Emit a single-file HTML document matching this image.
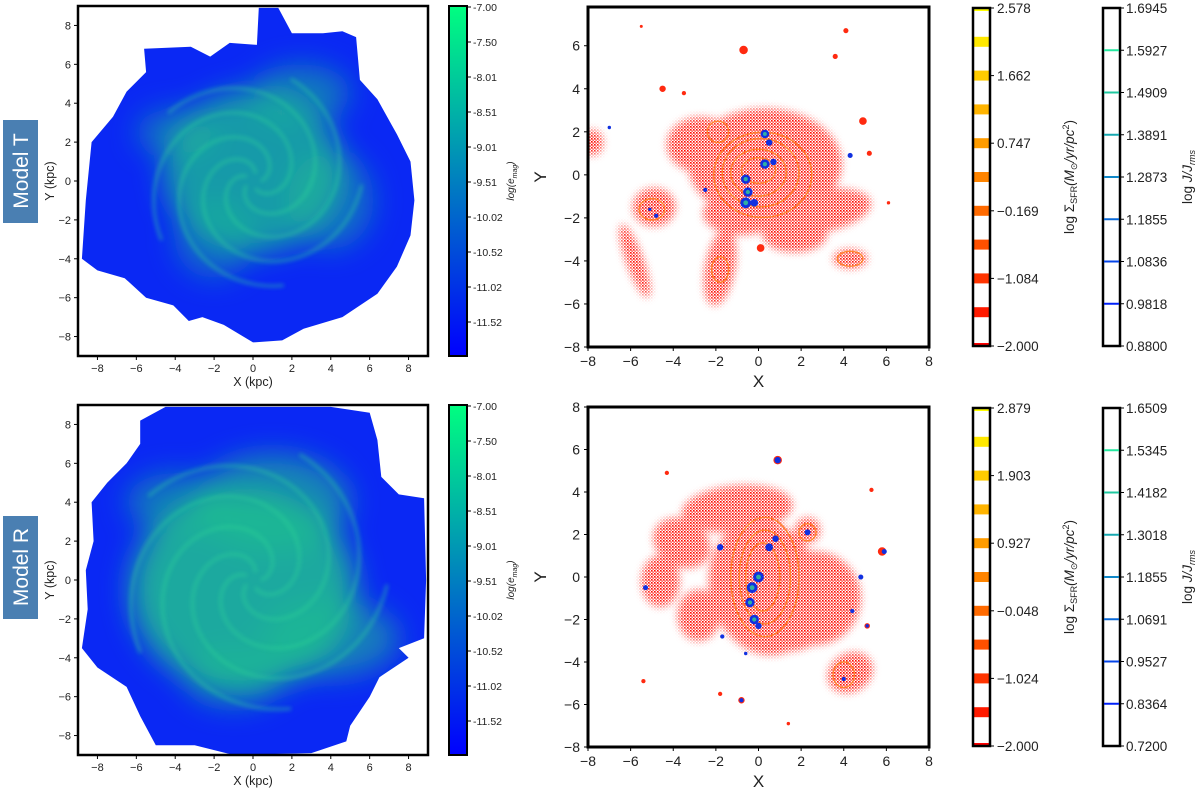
<!DOCTYPE html>
<html><head><meta charset="utf-8"><style>
html,body{margin:0;padding:0;background:#fff;}
svg{display:block;font-family:"Liberation Sans","DejaVu Sans",sans-serif;}
</style></head><body>
<svg id="fig" width="1200" height="789" viewBox="0 0 1200 789" xmlns="http://www.w3.org/2000/svg">
<defs>
<filter id="blur2" x="-20%" y="-20%" width="140%" height="140%"><feGaussianBlur stdDeviation="2"/></filter>
<filter id="blur6" x="-30%" y="-30%" width="160%" height="160%"><feGaussianBlur stdDeviation="4"/></filter>
<filter id="blur12" x="-40%" y="-40%" width="180%" height="180%"><feGaussianBlur stdDeviation="14"/></filter>
<linearGradient id="winter" x1="0" y1="1" x2="0" y2="0"><stop offset="0" stop-color="#0000ff"/><stop offset="1" stop-color="#00ff80"/></linearGradient>
<pattern id="dots" width="3" height="3" patternUnits="userSpaceOnUse"><rect x="0" y="0" width="1.6" height="1.6" fill="#ff0a00"/><rect x="1.5" y="1.5" width="1.3" height="1.3" fill="#ff1a10"/></pattern>
</defs>
<g id="root"></g>
</svg>
<script>
// ---- data (data units) ----
const magOutlineT = [[-8.8,-4],[-8.6,-1],[-8.3,2],[-7.2,3.3],[-6.5,4.6],[-5.5,5.6],[-5.6,6.8],[-3.2,6.9],[-2.2,6.4],[-1.2,7.1],[0.2,7],[0.3,8.9],[1.3,8.9],[2,7.6],[3.6,7.6],[4.6,7.7],[5.3,7.4],[5.5,5.2],[6.4,4.2],[7.4,2.4],[8.1,1],[8.3,-1],[8.1,-2.8],[7.4,-4.4],[6.4,-5.8],[4.6,-7],[2.6,-7.6],[1.5,-8.2],[0,-8.3],[-1.5,-7.4],[-2.6,-7],[-3.3,-7.2],[-4.1,-6.4],[-5.5,-6],[-6.6,-5],[-8,-4.6]];
const magOutlineR = [[-8.8,-3.5],[-8.5,-1.5],[-8.6,0.5],[-8.2,2],[-8.3,4],[-7.5,5],[-6.5,6],[-5.8,7],[-5.8,8.2],[-4.5,8.9],[4,8.9],[6,8.6],[6.4,7.2],[6.6,5.3],[7.5,4.4],[8.8,4.2],[8.9,0],[8.8,-3],[7.5,-3.5],[8,-4],[6.5,-5],[6,-6],[5,-7.5],[4.8,-8.3],[3,-8.9],[-1,-9],[-3,-8.5],[-5,-8.5],[-5.8,-7],[-6.5,-5.5],[-8,-4.5]];
// green glow regions: [x, y, rx, ry, opacity]
const glowT = [[0,0.5,4.6,4.2,0.75],[2.5,4.5,2.5,1.5,0.5],[-4,2.5,2,1.2,0.45],[4,-1,2.2,2.5,0.45],[-2,-3,2,2,0.4]];
const glowR = [[-0.5,-0.5,5.8,5.2,0.85],[1,4,4,2.5,0.6],[-4,4,2.5,1.5,0.5],[4,-3,3.5,2,0.55],[-1,-5,2.5,1.5,0.5]];
// red stellar regions [x,y,rx,ry,rotDeg]
const redT = [[0.3,0.5,3.6,2.6,0],[-4.9,-1.5,1,0.9,0],[-5.8,-4,0.4,1.8,-20],[-1.8,-4.3,0.7,1.8,10],[2.8,-1.7,2.5,1,-10],[-2.7,1.4,1.6,1.3,0],[4.3,-3.9,0.8,0.45,0],[-7.8,1.5,0.5,0.6,0],[1.7,-2.8,1.5,0.8,0],[-0.8,-1.8,1.8,1,0]];
const redSpotsT = [[-0.7,5.8,0.2],[-4.5,4,0.15],[-3.5,3.8,0.1],[4.1,6.7,0.12],[4.9,2.5,0.18],[0.1,-3.4,0.18],[6.1,-1.3,0.08],[-5.5,6.9,0.07],[3.6,5.5,0.12],[5.2,1,0.12]];
const redR = [[0.3,-0.5,2.6,3.2,-15],[-1,3.2,2.6,1.1,-5],[-3.6,1.6,1.4,1.1,30],[-4.6,-0.2,0.9,1.2,0],[2.6,-1,2.2,2.2,0],[4.3,-4.5,1.1,0.9,-30],[2.3,2.2,0.6,0.6,0],[-2.8,-1.8,1,1.2,0],[1.2,-2.8,1.6,0.7,0]];
const redSpotsR = [[0.9,5.5,0.2],[-4.3,4.9,0.1],[5.3,4.1,0.1],[5.8,1.2,0.2],[-5.4,-4.9,0.1],[1.4,-6.9,0.08],[-0.8,-5.8,0.15],[-1.8,-5.5,0.1],[5.1,-2.3,0.13]];
// orange contour ellipses [x,y,rx,ry]
const contT = [[0,0.2,0.8,0.6],[0,0.1,1.3,1.1],[0.1,0.1,1.8,1.6],[0.2,0,2.3,2],[-1.9,2,0.5,0.5],[-5,-1.6,0.6,0.5],[4.3,-3.9,0.6,0.35],[-1.8,-4.4,0.4,0.6]];
const contR = [[0.2,0,0.8,1.6],[0.3,0,1.2,2.2],[0.3,0,1.6,2.8],[4,-4.6,0.5,0.6],[2.3,2.1,0.4,0.4]];
// blue dense clumps [x,y,r]
const blueT = [[-0.6,-0.2,0.22],[-0.5,-0.8,0.22],[-0.6,-1.3,0.25],[-0.2,-1.3,0.18],[0.3,0.5,0.22],[0.7,0.6,0.15],[0.3,1.9,0.2],[0.5,1.5,0.15],[-5.1,-1.6,0.08],[-4.8,-1.9,0.1],[4.3,0.9,0.12],[-2.5,-0.7,0.1],[-7,2.2,0.08]];
const blueR = [[0,0,0.25],[-0.3,-0.5,0.25],[-0.4,-1.2,0.22],[-0.2,-2,0.22],[0,-2.3,0.15],[0.5,1.4,0.18],[0.8,1.8,0.15],[0.9,5.5,0.15],[-1.8,1.4,0.15],[2.3,2.1,0.14],[5.9,1.2,0.12],[-5.3,-0.5,0.12],[4.8,0,0.12],[4.4,-1.6,0.1],[-0.6,-3.6,0.08],[-1.7,-2.8,0.1],[-0.8,-5.8,0.1],[4,-4.8,0.1],[5.1,-2.3,0.08]];
// colorbar ticks
const magTicks = ["-7.00","-7.50","-8.01","-8.51","-9.01","-9.51","-10.02","-10.52","-11.02","-11.52"];
const sfrTicksT = ["2.578","1.662","0.747","\u22120.169","\u22121.084","\u22122.000"];
const sfrTicksR = ["2.879","1.903","0.927","\u22120.048","\u22121.024","\u22122.000"];
const jTicksT = ["1.6945","1.5927","1.4909","1.3891","1.2873","1.1855","1.0836","0.9818","0.8800"];
const jTicksR = ["1.6509","1.5345","1.4182","1.3018","1.1855","1.0691","0.9527","0.8364","0.7200"];
const sfrColors = ["#ffff00","#ffe800","#ffcc00","#ffb400","#ff9c00","#ff8400","#ff6a00","#ff5000","#ff3400","#ff1a00","#ff0000"];
const jColors = ["#26e8a0","#20c8a0","#18a8b0","#1088c8","#0868d8","#0444e8","#0020f8"];
const leftTicks = [-8,-6,-4,-2,0,2,4,6,8];
const midTicks = [-8,-6,-4,-2,0,2,4,6,8];

const NS="http://www.w3.org/2000/svg";
const root=document.getElementById('root');
function mk(tag,attrs,parent){const e=document.createElementNS(NS,tag);for(const k in attrs)e.setAttribute(k,attrs[k]);(parent||root).appendChild(e);return e;}
function txt(s,attrs,parent){const e=mk('text',attrs,parent);e.textContent=s;return e;}
function scale(d0,d1,p0,p1){return v=>p0+(v-d0)/(d1-d0)*(p1-p0);}

function magPanel(name,top,outline,glow,tag){
  const x0=78,x1=428,y0=top,y1=top+350;
  const sx=scale(-9,9,x0,x1), sy=scale(-9,9,y1,y0);
  const k=(x1-x0)/18;
  const g=mk('g',{});  
  const cid='clip'+tag; const cp=mk('clipPath',{id:cid},g);
  mk('rect',{x:x0,y:y0,width:x1-x0,height:y1-y0},cp);
  const inner=mk('g',{'clip-path':'url(#'+cid+')'},g);
  const pts=outline.map(p=>sx(p[0]).toFixed(1)+','+sy(p[1]).toFixed(1)).join(' ');
  const body=mk('polygon',{points:pts,fill:'#0a28f4'},inner);
   
  const gm='gm'+tag; const gcp=mk('clipPath',{id:gm},g); mk('polygon',{points:pts},gcp);
  const gg=mk('g',{'clip-path':'url(#'+gm+')',filter:'url(#blur12)'},inner);
  glow.forEach(c=>{const e=mk('ellipse',{cx:sx(c[0]),cy:sy(c[1]),rx:c[2]*k,ry:c[3]*k,fill:'#1cc090',opacity:c[4]},gg);
     });
  const sg=mk('g',{'clip-path':'url(#'+gm+')',filter:'url(#blur2)',fill:'none',stroke:'#30d898','stroke-width':3,opacity:0.45},inner);
  for(let i=0;i<5;i++){
    let d=''; for(let t=0;t<=60;t++){const a=t/60*5+i*1.25; const r=0.4+t/60*(tag==='R'?6.5:5.2); d+=(t?'L':'M')+sx(r*Math.cos(a)).toFixed(1)+','+sy(r*Math.sin(a)).toFixed(1);}
    mk('path',{d:d},sg);
  }
  mk('rect',{x:x0,y:y0,width:x1-x0,height:y1-y0,fill:'none',stroke:'#000','stroke-width':2.5},g);
  const ax=mk('g',{'font-size':11,fill:'#222'},g);
  leftTicks.forEach(v=>{
    mk('line',{x1:sx(v),x2:sx(v),y1:y1,y2:y1+4,stroke:'#000'},ax);
    txt(v<0?'\u2212'+(-v):''+v,{x:sx(v),y:y1+16,'text-anchor':'middle'},ax);
    mk('line',{x1:x0-4,x2:x0,y1:sy(v),y2:sy(v),stroke:'#000'},ax);
    txt(v<0?'\u2212'+(-v):''+v,{x:x0-7,y:sy(v)+4,'text-anchor':'end'},ax);
  });
  const xl=txt('X (kpc)',{x:(x0+x1)/2,y:y1+30,'text-anchor':'middle','font-size':12.5,fill:'#222'},g);
   
  const yl=txt('Y (kpc)',{x:0,y:0,'text-anchor':'middle','font-size':12.5,fill:'#222',transform:'translate(54,'+(top+175)+') rotate(-90)'},g);
   
  const cb=mk('g',{},g);  
  mk('rect',{x:449,y:y0,width:18,height:350,fill:'url(#winter)',stroke:'#000','stroke-width':2},cb);
  magTicks.forEach((s,i)=>{const yy=y0+1+i*35; mk('line',{x1:467,x2:471,y1:yy,y2:yy,stroke:'#000'},cb); txt(s,{x:473,y:yy+4,'font-size':10.5,fill:'#222'},cb);});
  const cl=mk('text',{x:0,y:0,'font-size':10,'font-style':'italic',fill:'#222','text-anchor':'middle',transform:'translate(514,'+(top+175)+') rotate(-90)'},cb);
  cl.textContent='log(e'; const ts=mk('tspan',{'font-size':7,dy:3},cl); ts.textContent='mag'; const t2=mk('tspan',{dy:-3},cl); t2.textContent=')';
}

function sfrPanel(name,top,ymax,reds,spots,conts,blues,sfrT,jT,tag){
  const x0=588,x1=929,y0=top,y1=top+340;
  const sx=scale(-8,8,x0,x1), sy=scale(-8,ymax,y1,y0);
  const k=(x1-x0)/16;
  const g=mk('g',{});  
  const cid='c2'+tag; const cp=mk('clipPath',{id:cid},g); mk('rect',{x:x0,y:y0,width:x1-x0,height:y1-y0},cp);
  const inner=mk('g',{'clip-path':'url(#'+cid+')'},g);
  const mid='m'+tag; const m=mk('mask',{id:mid},g);
  const mg=mk('g',{filter:'url(#blur6)'},m);
  reds.forEach(r=>mk('ellipse',{cx:0,cy:0,rx:r[2]*k,ry:r[3]*k,fill:'#fff',transform:'translate('+sx(r[0])+','+sy(r[1])+') rotate('+r[4]+')'},mg));
  const mr=mk('rect',{x:x0,y:y0,width:x1-x0,height:y1-y0,fill:'url(#dots)',mask:'url(#'+mid+')'},inner);
   
  spots.forEach(s=>{const e=mk('circle',{cx:sx(s[0]),cy:sy(s[1]),r:Math.max(1.5,s[2]*k),fill:'#ff2a10'},inner);
     });
  conts.forEach(c=>{const e=mk('ellipse',{cx:sx(c[0]),cy:sy(c[1]),rx:c[2]*k,ry:c[3]*k,fill:'none',stroke:'#ff8020','stroke-width':1.4,opacity:0.9},inner);
     });
  blues.forEach(b=>{const e=mk('circle',{cx:sx(b[0]),cy:sy(b[1]),r:b[2]*k,fill:'#1030e0'},inner);
     
    if(b[2]>=0.2) mk('circle',{cx:sx(b[0]),cy:sy(b[1]),r:b[2]*k*0.45,fill:'#30b0a0'},inner);});
  mk('rect',{x:x0,y:y0,width:x1-x0,height:y1-y0,fill:'none',stroke:'#000','stroke-width':3},g);
  const ax=mk('g',{'font-size':14,fill:'#222'},g);
  midTicks.forEach(v=>{
    mk('line',{x1:sx(v),x2:sx(v),y1:y1,y2:y1+4,stroke:'#000'},ax);
    txt(v<0?'\u2212'+(-v):''+v,{x:sx(v),y:y1+19,'text-anchor':'middle'},ax);
    if(v<=ymax){mk('line',{x1:x0-4,x2:x0,y1:sy(v),y2:sy(v),stroke:'#000'},ax);
    txt(v<0?'\u2212'+(-v):''+v,{x:x0-8,y:sy(v)+5,'text-anchor':'end'},ax);}
  });
  const xl=txt('X',{x:(x0+x1)/2,y:y1+40,'text-anchor':'middle','font-size':17,fill:'#222'},g);
   
  const yl=txt('Y',{x:0,y:0,'text-anchor':'middle','font-size':17,fill:'#222',transform:'translate(546,'+(y0+170)+') rotate(-90)'},g);
   
  const cb=mk('g',{},g);  
  const cy0=y0+1, ch=338;
  mk('rect',{x:973,y:cy0,width:17,height:ch,fill:'#fff'},cb);
  sfrColors.forEach((c,i)=>{const yc=cy0+ch-i*ch/10; const h=(i===0||i===10)?3:10; mk('rect',{x:973,y:(i===10?cy0:(i===0?yc-3:yc-5)),width:17,height:h,fill:sfrColors[10-i]},cb);});
  mk('rect',{x:973,y:cy0,width:17,height:ch,fill:'none',stroke:'#000','stroke-width':2.5},cb);
  sfrT.forEach((s,i)=>{const yy=cy0+i*ch/5; mk('line',{x1:990,x2:994,y1:yy,y2:yy,stroke:'#000'},cb); txt(s,{x:997,y:yy+5,'font-size':13.5,fill:'#222'},cb);});
  const sl=mk('text',{x:0,y:0,'font-size':13.5,fill:'#222','text-anchor':'middle',transform:'translate(1074,'+(y0+170)+') rotate(-90)'},cb);
  sl.textContent='log \u03a3'; let a=mk('tspan',{'font-size':9,dy:3},sl); a.textContent='SFR';
  a=mk('tspan',{dy:-3,'font-style':'italic'},sl); a.textContent='(M'; a=mk('tspan',{'font-size':9,dy:3},sl); a.textContent='\u2299';
  a=mk('tspan',{dy:-3,'font-style':'italic'},sl); a.textContent='/yr/pc'; a=mk('tspan',{'font-size':9,dy:-5},sl); a.textContent='2'; a=mk('tspan',{dy:5},sl); a.textContent=')';
  const jb=mk('g',{},g);  
  mk('rect',{x:1103,y:cy0,width:17,height:ch,fill:'#fff',stroke:'#000','stroke-width':2.5},jb);
  jColors.forEach((c,i)=>{const yy=cy0+(i+1)*ch/8; mk('line',{x1:1104,x2:1119,y1:yy,y2:yy,stroke:c,'stroke-width':2},jb);});
  jT.forEach((s,i)=>{const yy=cy0+i*ch/8; mk('line',{x1:1120,x2:1124,y1:yy,y2:yy,stroke:'#000'},jb); txt(s,{x:1126,y:yy+5,'font-size':13.5,fill:'#222'},jb);});
  const jl=mk('text',{x:0,y:0,'font-size':13.5,fill:'#222','text-anchor':'middle',transform:'translate(1192,'+(y0+170)+') rotate(-90)'},jb);
  jl.textContent='log '; a=mk('tspan',{'font-style':'italic'},jl); a.textContent='J/J'; a=mk('tspan',{'font-size':9,dy:3,'font-style':'italic'},jl); a.textContent='rms';
}

function modelLabel(s,y){
  const g=mk('g',{});  
  mk('rect',{x:3,y:y,width:35,height:103,fill:'#4a7fb2'},g);
  txt(s,{x:0,y:0,'font-size':21,fill:'#fff','text-anchor':'middle',transform:'translate(28,'+(y+51)+') rotate(-90)'},g);
}

magPanel('model-t',6,magOutlineT,glowT,'T');
magPanel('model-r',405,magOutlineR,glowR,'R');
sfrPanel('model-t',7,7.8,redT,redSpotsT,contT,blueT,sfrTicksT,jTicksT,'T');
sfrPanel('model-r',407,8,redR,redSpotsR,contR,blueR,sfrTicksR,jTicksR,'R');
modelLabel('Model T',120);
modelLabel('Model R',516);
</script>
</body></html>
